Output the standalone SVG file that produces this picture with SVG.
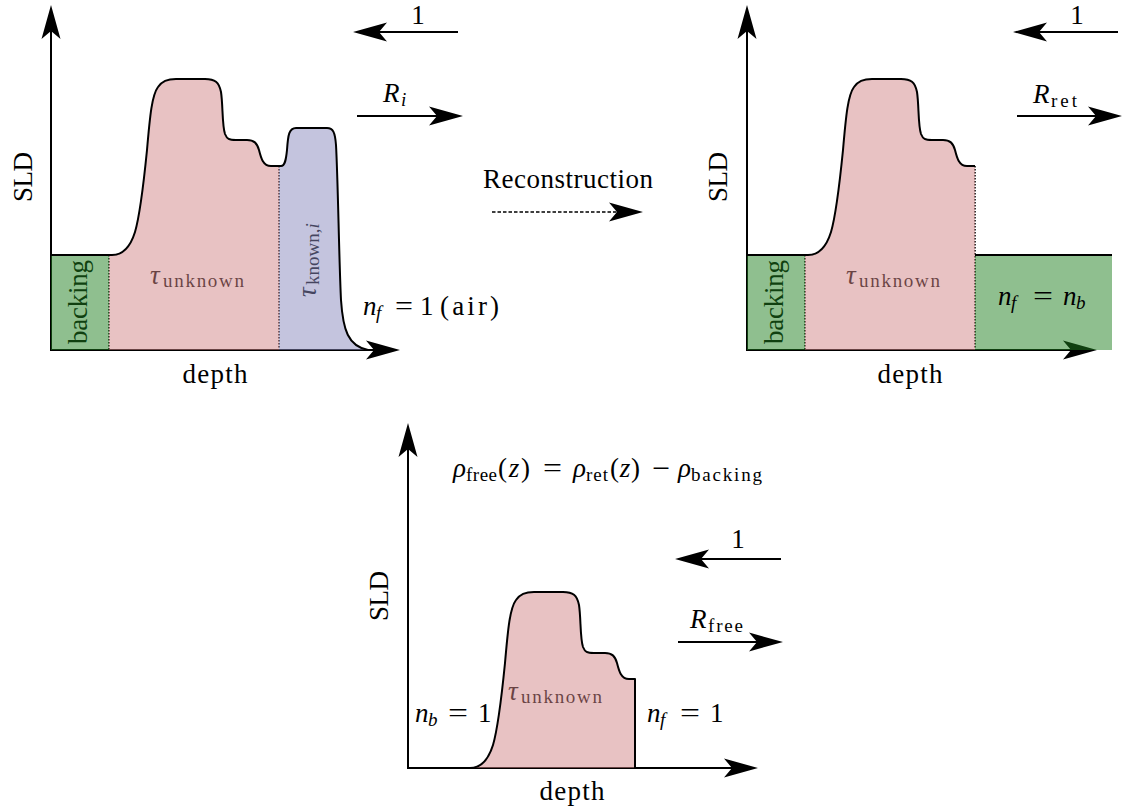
<svg xmlns="http://www.w3.org/2000/svg" width="1132" height="812" viewBox="0 0 1132 812" font-family="'Liberation Serif', 'DejaVu Serif', serif">
<style>
text{font-family:'Liberation Serif','DejaVu Serif',serif;font-size:27px;fill:#000}
.it{font-style:italic}
.sub{font-size:19px}
.mid{text-anchor:middle}
.ax{stroke:#000;stroke-width:2;fill:none;marker-end:url(#ah)}
.dash{stroke:#000;stroke-width:1.6;fill:none;stroke-dasharray:3.5 2;marker-end:url(#ah)}
.dot{stroke:#000;stroke-width:1.6;stroke-dasharray:1.5 1.5;fill:none}
.curve{stroke:#000;stroke-width:2;fill:none;stroke-linejoin:round}
.g{fill:#1F7F1F;fill-opacity:.5}
.p{fill:#D18587;fill-opacity:.5}
.b{fill:#8989BD;fill-opacity:.5}
</style>
<defs>
<marker id="ah" viewBox="0 0 36 22" markerWidth="36" markerHeight="22" refX="26" refY="11" orient="auto" markerUnits="userSpaceOnUse">
<path d="M34,11 L0,1.5 L8,11 L0,20.5 Z" fill="#000" stroke="none"/>
</marker>
</defs>
<rect width="1132" height="812" fill="#fff"/>

<g id="panel-original">
<text class="mid" transform="translate(32,177) rotate(-90)" textLength="50">SLD</text>
<text class="mid" x="215" y="383" textLength="65">depth</text>
<text class="mid" transform="translate(87,302) rotate(-90)" textLength="84">backing</text>
<text x="150" y="284" class="it">τ</text>
<text x="163" y="287" class="sub" textLength="81">unknown</text>
<text transform="translate(316,297) rotate(-90)"><tspan x="0" y="0" class="it">τ</tspan><tspan x="12" y="3" class="sub">known,</tspan><tspan class="sub it">i</tspan></text>
<line class="ax" x1="51" y1="351" x2="51" y2="13"/>
<line class="ax" x1="50" y1="350" x2="392" y2="350"/>
<line class="dot" x1="109" y1="255" x2="109" y2="350"/>
<line class="dot" x1="279" y1="166" x2="279" y2="350"/>
<rect class="g" x="51" y="255" width="58" height="95"/>
<path class="p" d="M109,255 L112,255 C122,255 130,248 135,232 C140,215 144,180 147,150 C150,115 152,95 158,87 C162,81 167,79 176,79 L205,79 C215,79 219,82 221,92 C223,105 222,125 225,134 C227,139 229,140 236,140 L247,140 C254,140 257,143 259,150 C261,158 263,166 271,166 L279,166 L279,350 L109,350 Z"/>
<path class="b" d="M279,166 L281,166 C285,166 286,160 287,150 C288,135 289,128 296,128 L327,128 C333,128 335,132 336,145 C338,180 339,260 341,300 C343,330 348,346 368,350 L279,350 Z"/>
<path class="curve" d="M51,255 L112,255 C122,255 130,248 135,232 C140,215 144,180 147,150 C150,115 152,95 158,87 C162,81 167,79 176,79 L205,79 C215,79 219,82 221,92 C223,105 222,125 225,134 C227,139 229,140 236,140 L247,140 C254,140 257,143 259,150 C261,158 263,166 271,166 L281,166 C285,166 286,160 287,150 C288,135 289,128 296,128 L327,128 C333,128 335,132 336,145 C338,180 339,260 341,300 C343,330 348,346 368,350"/>
<text x="363" y="315" class="it">n</text>
<text x="376" y="319" class="sub it">f</text>
<text x="395" y="315" textLength="18" lengthAdjust="spacingAndGlyphs">=</text>
<text x="420" y="315">1</text>
<text x="440" y="315" font-size="29" textLength="59">(air)</text>
</g>

<g id="panel-reconstructed">
<text class="mid" transform="translate(727,177) rotate(-90)" textLength="50">SLD</text>
<text class="mid" x="910" y="383" textLength="65">depth</text>
<text class="mid" transform="translate(783,302) rotate(-90)" textLength="84">backing</text>
<text x="846" y="284" class="it">τ</text>
<text x="859" y="287" class="sub" textLength="81">unknown</text>
<line class="ax" x1="747" y1="351" x2="747" y2="13"/>
<line class="ax" x1="746" y1="350" x2="1089" y2="350"/>
<line class="dot" x1="805" y1="255" x2="805" y2="350"/>
<line class="dot" x1="975" y1="166" x2="975" y2="350"/>
<rect class="g" x="747" y="255" width="58" height="95"/>
<rect class="g" x="975" y="255" width="137" height="95"/>
<g transform="translate(696,0)">
<path class="p" d="M109,255 L112,255 C122,255 130,248 135,232 C140,215 144,180 147,150 C150,115 152,95 158,87 C162,81 167,79 176,79 L205,79 C215,79 219,82 221,92 C223,105 222,125 225,134 C227,139 229,140 236,140 L247,140 C254,140 257,143 259,150 C261,158 263,166 271,166 L279,166 L279,350 L109,350 Z"/>
<path class="curve" d="M51,255 L112,255 C122,255 130,248 135,232 C140,215 144,180 147,150 C150,115 152,95 158,87 C162,81 167,79 176,79 L205,79 C215,79 219,82 221,92 C223,105 222,125 225,134 C227,139 229,140 236,140 L247,140 C254,140 257,143 259,150 C261,158 263,166 271,166 L279,166"/>
</g>
<line class="curve" x1="975" y1="255" x2="1112" y2="255"/>
<text x="998" y="305" class="it">n</text>
<text x="1011" y="309" class="sub it">f</text>
<text x="1033" y="305" textLength="20" lengthAdjust="spacingAndGlyphs">=</text>
<text x="1063" y="305" class="it">n</text>
<text x="1076" y="309" class="sub it">b</text>
</g>

<g id="panel-free">
<text class="mid" transform="translate(388,596) rotate(-90)" textLength="50">SLD</text>
<text class="mid" x="572" y="800" textLength="65">depth</text>
<text x="508" y="700" class="it">τ</text>
<text x="521" y="703" class="sub" textLength="81">unknown</text>
<line class="ax" x1="408" y1="769" x2="408" y2="431"/>
<line class="ax" x1="407" y1="768" x2="750" y2="768"/>
<g transform="translate(358,513)">
<path class="p" d="M109,255 L112,255 C122,255 130,248 135,232 C140,215 144,180 147,150 C150,115 152,95 158,87 C162,81 167,79 176,79 L205,79 C215,79 219,82 221,92 C223,105 222,125 225,134 C227,139 229,140 236,140 L247,140 C254,140 257,143 259,150 C261,158 263,166 271,166 L277,166 L277,255 L109,255 Z"/>
<path class="curve" d="M109,255 L112,255 C122,255 130,248 135,232 C140,215 144,180 147,150 C150,115 152,95 158,87 C162,81 167,79 176,79 L205,79 C215,79 219,82 221,92 C223,105 222,125 225,134 C227,139 229,140 236,140 L247,140 C254,140 257,143 259,150 C261,158 263,166 271,166 L277,166 L277,255"/>
</g>
<text x="415" y="722" class="it">n</text>
<text x="428" y="726" class="sub it">b</text>
<text x="448" y="722" textLength="20" lengthAdjust="spacingAndGlyphs">=</text>
<text x="478" y="722">1</text>
<text x="647" y="722" class="it">n</text>
<text x="660" y="726" class="sub it">f</text>
<text x="680" y="722" textLength="20" lengthAdjust="spacingAndGlyphs">=</text>
<text x="710" y="722">1</text>
<g id="formula">
<text x="453" y="477" class="it">ρ</text>
<text x="466" y="481" class="sub" textLength="31">free</text>
<text x="498" y="477" textLength="32">(<tspan class="it">z</tspan>)</text>
<text x="543" y="477" textLength="19" lengthAdjust="spacingAndGlyphs">=</text>
<text x="573" y="477" class="it">ρ</text>
<text x="586" y="481" class="sub" textLength="22">ret</text>
<text x="610" y="477" textLength="30">(<tspan class="it">z</tspan>)</text>
<text x="652" y="477" textLength="18" lengthAdjust="spacingAndGlyphs">−</text>
<text x="678" y="477" class="it">ρ</text>
<text x="691" y="481" class="sub" textLength="71">backing</text>
</g>
</g>

<g id="connectors">
<line class="ax" x1="458" y1="32" x2="361" y2="32"/>
<line class="ax" x1="357" y1="116" x2="455" y2="116"/>
<line class="dash" x1="492" y1="212" x2="635" y2="212"/>
<line class="ax" x1="1118" y1="32" x2="1021" y2="32"/>
<line class="ax" x1="1017" y1="116" x2="1114" y2="116"/>
<line class="ax" x1="781" y1="559" x2="683" y2="559"/>
<line class="ax" x1="678" y1="642" x2="775" y2="642"/>
</g>

<g id="labels">
<text class="mid" x="418" y="24">1</text>
<text x="383" y="102" class="it">R</text>
<text x="401" y="106" class="sub it">i</text>
<text class="mid" x="568" y="188" textLength="170">Reconstruction</text>
<text class="mid" x="1077" y="24">1</text>
<text x="1033" y="103" class="it">R</text>
<text x="1051" y="107" class="sub" textLength="26">ret</text>
<text class="mid" x="738" y="548">1</text>
<text x="690" y="628" class="it">R</text>
<text x="708" y="632" class="sub" textLength="35">free</text>
</g>
</svg>
